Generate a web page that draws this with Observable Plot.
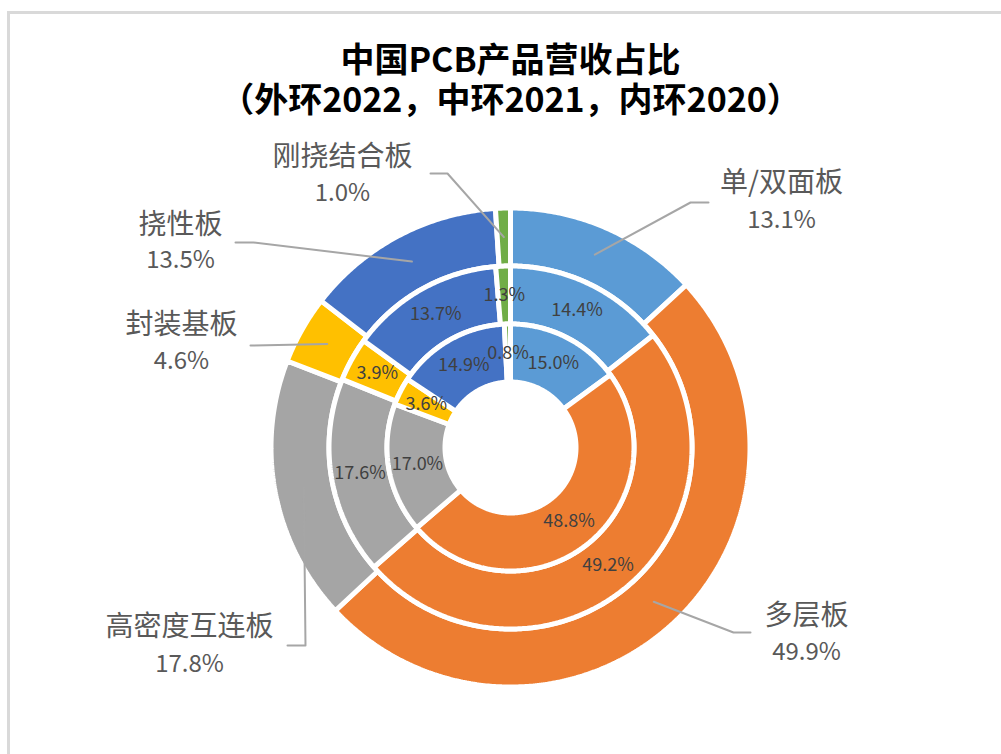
<!DOCTYPE html>
<html><head><meta charset="utf-8">
<script src="https://cdn.jsdelivr.net/npm/d3@7"></script>
<script src="https://cdn.jsdelivr.net/npm/@observablehq/plot@0.6"></script>
<style>
html,body{margin:0;padding:0;background:#fff;overflow:hidden;width:1001px;height:754px;}
#wrap{position:relative;width:1001px;height:754px;overflow:hidden;}
#frame{position:absolute;left:7px;top:11px;width:1100px;height:900px;border:3px solid #d9d9d9;box-sizing:border-box;}
#title{position:absolute;left:10px;top:38px;width:1001px;text-align:center;font-family:"Noto Sans CJK SC";font-weight:bold;font-size:34px;line-height:40px;color:#000;}
#chart{position:absolute;left:0;top:0;}
</style></head><body>
<div id="wrap"><div id="frame"></div><div id="chart"></div><div id="title">中国PCB产品营收占比<br>（外环2022，中环2021，内环2020）</div></div>
<script>
// ---- data ----
const categories = ["单/双面板", "多层板", "高密度互连板", "封装基板", "挠性板", "刚挠结合板"];
const rings = ["2022", "2021", "2020"]; // outer → inner
const values2022 = [13.1, 49.9, 17.8, 4.6, 13.5, 1.0];
const values2021 = [14.4, 49.2, 17.6, 3.9, 13.7, 1.3];
const values2020 = [15.0, 48.8, 17.0, 3.6, 14.9, 0.8];

// ---- styles / layout ----
const colors = ["#5B9BD5", "#ED7D31", "#A5A5A5", "#FFC000", "#4472C4", "#70AD47"];
const radii = [[181.5, 239.5], [123.5, 181.5], [65.5, 123.5]];
// outside callout placement for outer ring (units relative to centre, y up)
const callouts = [
  {name: [271, 264], value: [271, 227], elbow: [180, 245], end: [198, 245]},
  {name: [296, -169], value: [296, -205], elbow: [223, -185], end: [240, -185]},
  {name: [-321, -180], value: [-321, -217], elbow: [-205, -198], end: [-223, -198]},
  {name: [-329, 122], value: [-329, 86], elbow: [-260, 102], end: [-260, 102]},
  {name: [-330, 222], value: [-330, 187], elbow: [-257, 205], end: [-275, 205]},
  {name: [-168, 290], value: [-168, 254], elbow: [-63, 274], end: [-80, 274]}
];

const series = [values2022, values2021, values2020];
const slices = [], ringLabels = [], leaders = [], outNames = [], outValues = [];
series.forEach((vals, ri) => {
  const total = d3.sum(vals);
  const [r0, r1] = radii[ri];
  let acc = 0;
  vals.forEach((v, ci) => {
    const a0 = acc / total * 2 * Math.PI, a1 = (acc + v) / total * 2 * Math.PI;
    acc += v;
    const id = rings[ri] + "-" + ci, cat = categories[ci];
    const n = Math.max(2, Math.ceil((a1 - a0) / (Math.PI / 360)));
    for (let k = 0; k <= n; k++) { const a = a0 + (a1 - a0) * k / n; slices.push({id, cat, x: r1 * Math.sin(a), y: r1 * Math.cos(a)}); }
    for (let k = n; k >= 0; k--) { const a = a0 + (a1 - a0) * k / n; slices.push({id, cat, x: r0 * Math.sin(a), y: r0 * Math.cos(a)}); }
    const am = (a0 + a1) / 2, rm = (r0 + r1) / 2;
    const cx = rm * Math.sin(am), cy = rm * Math.cos(am);
    if (ri === 0) {
      const c = callouts[ci];
      leaders.push({cat, x: cx, y: cy}, {cat, x: c.elbow[0], y: c.elbow[1]}, {cat, x: c.end[0], y: c.end[1]});
      outNames.push({text: cat, x: c.name[0], y: c.name[1]});
      outValues.push({text: v.toFixed(1) + "%", x: c.value[0], y: c.value[1]});
    } else {
      ringLabels.push({text: v.toFixed(1) + "%", x: cx, y: cy});
    }
  });
});

const chart = Plot.plot({
  width: 1001, height: 754, margin: 0,
  style: {background: "transparent", overflow: "visible"},
  x: {domain: [-510, 491], axis: null},
  y: {domain: [-307, 447], axis: null},
  color: {domain: categories, range: colors},
  marks: [
    Plot.line(slices, {x: "x", y: "y", z: "id", fill: "cat", stroke: "white", strokeWidth: 5, curve: "linear-closed", strokeLinejoin: "miter"}),
    Plot.line(leaders, {x: "x", y: "y", z: "cat", stroke: "#A6A6A6", strokeWidth: 2}),
    Plot.text(ringLabels, {x: "x", y: "y", text: "text", fill: "#404040", fontSize: 18, fontFamily: "Noto Sans CJK SC"}),
    Plot.text(outNames, {x: "x", y: "y", text: "text", fill: "#595959", fontSize: 28, fontFamily: "Noto Sans CJK SC"}),
    Plot.text(outValues, {x: "x", y: "y", text: "text", fill: "#595959", fontSize: 24, fontFamily: "Noto Sans CJK SC"})
  ]
});
document.getElementById("chart").appendChild(chart);
</script>
</body></html>
